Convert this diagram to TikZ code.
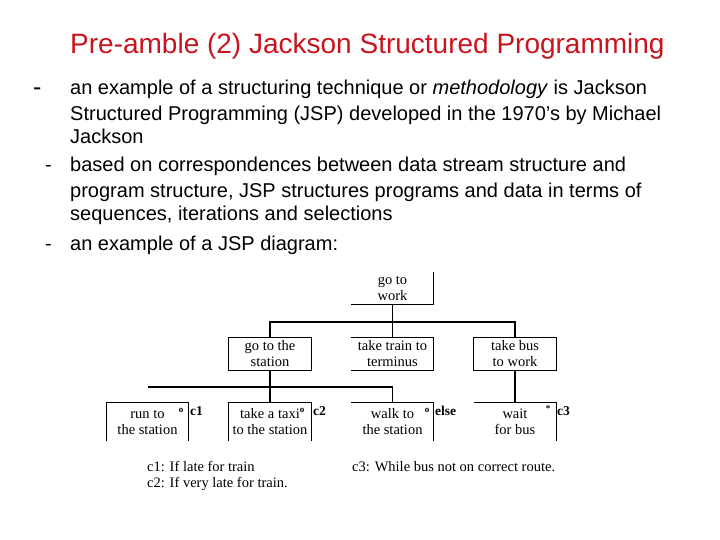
\documentclass[tikz,border=0pt]{standalone}
\usepackage{fontspec}
\setmainfont{Liberation Serif}
\newfontfamily\arial{Liberation Sans}
\definecolor{titlered}{RGB}{200,20,30}
\begin{document}
\begin{tikzpicture}[x=1pt,y=-1pt,
  txt/.style={anchor=base west,inner sep=0pt,font=\arial\fontsize{20}{20}\selectfont},
  dashmark/.style={anchor=base west,inner sep=0pt,font=\arial\fontsize{20}{20}\selectfont},
  jbox/.style={minimum width=82pt,minimum height=32pt,inner sep=0pt,align=center,
    font=\fontsize{14.5}{16}\selectfont},
  rbox/.style={minimum width=82pt,minimum height=38pt,inner sep=0pt,align=center,
    font=\fontsize{14.5}{16}\selectfont},
  ln/.style={line width=1.2pt,black},
  cond/.style={inner sep=0pt,font=\bfseries\fontsize{13.5}{13.5}\selectfont,anchor=west},
  mk/.style={inner sep=0pt,font=\bfseries\fontsize{9}{9}\selectfont},
  note/.style={anchor=base west,inner sep=0pt,font=\fontsize{14.5}{14.5}\selectfont}]
\useasboundingbox (0,0) rectangle (720,540);
% title
\node[anchor=base west,inner sep=0pt,text=titlered,font=\arial\fontsize{28}{28}\selectfont] (title) at (70,54) {Pre-amble (2) Jackson Structured Programming};
% bullets
\node[dashmark,font=\arial\fontsize{25}{25}\selectfont] (d1) at (33,96) {-};
\node[txt] (l1) at (70,95) {an example of a structuring technique or \textit{methodology} is Jackson};
\node[txt] (l2) at (70,121) {Structured Programming (JSP) developed in the 1970’s by Michael};
\node[txt] (l3) at (70,144) {Jackson};
\node[dashmark] (d2) at (45,172) {-};
\node[txt] (l4) at (70,172) {based on correspondences between data stream structure and};
\node[txt] (l5) at (70,197) {program structure, JSP structures programs and data in terms of};
\node[txt] (l6) at (70,221) {sequences, iterations and selections};
\node[dashmark] (d3) at (45,250) {-};
\node[txt] (l7) at (70,250) {an example of a JSP diagram:};
% boxes
\node[jbox] (top) at (392.5,288) {go to\\work};
\node[jbox] (a) at (270,354) {go to the\\station};
\node[jbox] (b) at (392.5,354) {take train to\\terminus};
\node[jbox] (c) at (515,354) {take bus\\to work};
\node[rbox] (r1) at (147.5,422) {run to\\the station};
\node[rbox] (r2) at (270,422) {take a taxi\\to the station};
\node[rbox] (r3) at (392.5,422) {walk to\\the station};
\node[rbox] (r4) at (515,422) {wait\\for bus};
% box outlines (as visible)
\draw[ln] (top.north east) -- (top.south east) -- (top.south west);
\draw[ln] (a.north west) rectangle (a.south east);
\draw[ln] (b.north west) -- (b.north east) -- (b.south east) -- (b.south west);
\draw[ln] (c.north west) rectangle (c.south east);
\draw[ln] (r1.south west) -- (r1.north west) -- (r1.north east) -- (r1.south east);
\draw[ln] (r2.south west) -- (r2.north west) -- (r2.north east) -- (r2.south east);
\draw[ln] (r3.north west) -- (r3.north east) -- (r3.south east);
\draw[ln] (r4.north west) -- (r4.north east) -- (r4.south east);
% connectors
\coordinate (j1) at (392.5,322);
\coordinate (j2) at (392.5,387);
\coordinate (j2l) at (147.5,387);
\draw[ln] (top.south) -- (j1);
\draw[ln] (a.north) |- (j1) -| (c.north);
\draw[ln] (j1) -- (b.north);
\draw[ln] (a.south) -- (r2.north);
\draw[ln] (j2l) -- (j2) -- (r3.north);
\draw[ln] (c.south) -- (r4.north);
% selection / iteration marks
\node[mk] (m1) at (181,410) {o};
\node[mk] (m2) at (302,410) {o};
\node[mk] (m3) at (427,410) {o};
\node[mk] (m4) at (548,409) {*};
\node[cond] (c1) at (190,411) {c1};
\node[cond] (c2) at (313,411) {c2};
\node[cond] (ce) at (435,411) {else};
\node[cond] (c3) at (557,411) {c3};
% notes
\node[note] (n1) at (147,471) {c1: If late for train};
\node[note] (n2) at (147,487) {c2: If very late for train.};
\node[note] (n3) at (352,471) {c3: While bus not on correct route.};
\end{tikzpicture}
\end{document}
